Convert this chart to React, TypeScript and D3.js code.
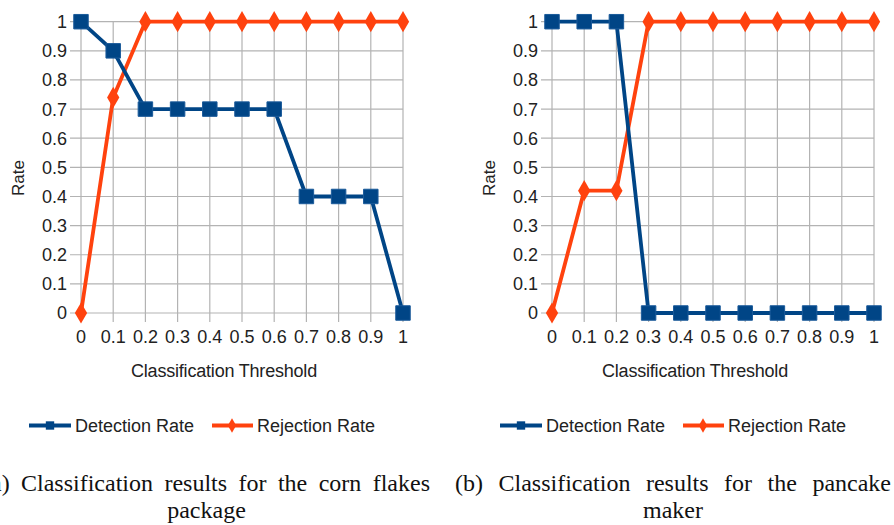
import React, { useLayoutEffect, useRef } from "react";
import * as d3 from "d3";

const thresholds = [0, 0.1, 0.2, 0.3, 0.4, 0.5, 0.6, 0.7, 0.8, 0.9, 1];
const thresholdLabels = ["0", "0.1", "0.2", "0.3", "0.4", "0.5", "0.6", "0.7", "0.8", "0.9", "1"];
const rateTicks = [0, 0.1, 0.2, 0.3, 0.4, 0.5, 0.6, 0.7, 0.8, 0.9, 1];
const rateTickLabels = ["0", "0.1", "0.2", "0.3", "0.4", "0.5", "0.6", "0.7", "0.8", "0.9", "1"];

const cornDetection = [1, 0.9, 0.7, 0.7, 0.7, 0.7, 0.7, 0.4, 0.4, 0.4, 0];
const cornRejection = [0, 0.74, 1, 1, 1, 1, 1, 1, 1, 1, 1];
const pancakeDetection = [1, 1, 1, 0, 0, 0, 0, 0, 0, 0, 0];
const pancakeRejection = [0, 0.42, 0.42, 1, 1, 1, 1, 1, 1, 1, 1];

const seriesNames = ["Detection Rate", "Rejection Rate"];
const captionA = ["(a) Classification results for the corn flakes", "package"];
const captionB = ["(b) Classification results for the pancake", "maker"];

const BLUE = "#004586";
const ORANGE = "#ff420e";
const GRID = "#b3b3b3";
const SANS = "'Liberation Sans', Arial, sans-serif";
const SERIF = "'Liberation Serif', 'Times New Roman', serif";

const square = d3.symbol().type(d3.symbolSquare).size(210);
const diamond = d3.symbol().type(d3.symbolDiamond).size(130);
const squareSmall = d3.symbol().type(d3.symbolSquare).size(70);
const diamondSmall = d3.symbol().type(d3.symbolDiamond).size(60);

function JustifiedLine({ text, left, right, y }: any) {
  const ref = useRef<SVGTextElement>(null);
  const words = text.split(" ");
  useLayoutEffect(() => {
    const el = ref.current;
    if (!el) return;
    const spans = Array.from(el.querySelectorAll("tspan")) as SVGTSpanElement[];
    const widths = spans.map((s) => s.getComputedTextLength());
    const total = widths.reduce((a, b) => a + b, 0);
    const gap = (right - left - total) / Math.max(1, spans.length - 1);
    let cx = left;
    spans.forEach((s, i) => {
      s.setAttribute("x", String(cx));
      cx += widths[i] + gap;
    });
  }, [text, left, right]);
  return (
    <text ref={ref} y={y} fontFamily={SERIF} fontSize={24} fill="#111">
      {words.map((w: string, i: number) => (
        <tspan key={i} x={left}>
          {w}
        </tspan>
      ))}
    </text>
  );
}

function Panel({ x0, detection, rejection, caption, capLeft, capRight }: any) {
  const x = d3.scaleLinear().domain([0, 1]).range([x0, x0 + 322]);
  const y = d3.scaleLinear().domain([0, 1]).range([313, 21.7]);
  const line = d3
    .line<number>()
    .x((_, i) => x(thresholds[i]))
    .y((d) => y(d));
  const legY = 425.5;
  const legX = x0 - 52;
  return (
    <g>
      {rateTicks.map((t, i) => (
        <line key={"h" + i} x1={x0 - 11} x2={x(1)} y1={y(t)} y2={y(t)} stroke={GRID} strokeWidth={1.2} />
      ))}
      {thresholds.map((t, i) => (
        <line key={"v" + i} x1={x(t)} x2={x(t)} y1={y(1)} y2={y(0) + 9} stroke={GRID} strokeWidth={1.2} />
      ))}
      {rateTicks.map((t, i) => (
        <text key={"yl" + i} x={x0 - 14} y={y(t)} dy="0.36em" textAnchor="end" fontFamily={SANS} fontSize={18} fill="#222">
          {rateTickLabels[i]}
        </text>
      ))}
      {thresholds.map((t, i) => (
        <text key={"xl" + i} x={x(t)} y={343} textAnchor="middle" fontFamily={SANS} fontSize={18} fill="#222">
          {thresholdLabels[i]}
        </text>
      ))}
      <text x={x0 - 63} y={178} transform={`rotate(-90 ${x0 - 63} 178)`} dy="0.36em" textAnchor="middle" fontFamily={SANS} fontSize={17} fill="#222">
        Rate
      </text>
      <text x={x0 + 143} y={377} textAnchor="middle" fontFamily={SANS} fontSize={18} fill="#222" letterSpacing={-0.2}>
        Classification Threshold
      </text>
      <path d={line(rejection) || ""} fill="none" stroke={ORANGE} strokeWidth={3.8} strokeLinejoin="round" />
      <path d={line(detection) || ""} fill="none" stroke={BLUE} strokeWidth={3.8} strokeLinejoin="round" />
      {rejection.map((v: number, i: number) => (
        <path key={"r" + i} d={diamond() || ""} transform={`translate(${x(thresholds[i])},${y(v)})`} fill={ORANGE} />
      ))}
      {detection.map((v: number, i: number) => (
        <path key={"d" + i} d={square() || ""} transform={`translate(${x(thresholds[i])},${y(v)})`} fill={BLUE} stroke="#1a5a9a" strokeWidth={1} />
      ))}
      {/* legend */}
      <line x1={legX} x2={legX + 42} y1={legY} y2={legY} stroke={BLUE} strokeWidth={3.8} />
      <path d={squareSmall() || ""} transform={`translate(${legX + 21},${legY})`} fill={BLUE} />
      <text x={legX + 46} y={legY} dy="0.36em" fontFamily={SANS} fontSize={18} fill="#222">
        {seriesNames[0]}
      </text>
      <line x1={legX + 183} x2={legX + 224} y1={legY} y2={legY} stroke={ORANGE} strokeWidth={3.8} />
      <path d={diamondSmall() || ""} transform={`translate(${legX + 203},${legY})`} fill={ORANGE} />
      <text x={legX + 228} y={legY} dy="0.36em" fontFamily={SANS} fontSize={18} fill="#222">
        {seriesNames[1]}
      </text>
      {/* caption */}
      <JustifiedLine text={caption[0]} left={capLeft} right={capRight} y={491} />
      <text x={(capLeft + capRight) / 2} y={518} textAnchor="middle" fontFamily={SERIF} fontSize={24} fill="#111">
        {caption[1]}
      </text>
    </g>
  );
}

export default function App() {
  return (
    <svg width={894} height={525} style={{ position: "absolute", left: 0, top: 0, background: "#fff" }}>
      <rect width={894} height={525} fill="#fff" />
      <Panel x0={81} detection={cornDetection} rejection={cornRejection} caption={captionA} capLeft={-17} capRight={430} />
      <Panel x0={552} detection={pancakeDetection} rejection={pancakeRejection} caption={captionB} capLeft={455} capRight={891} />
    </svg>
  );
}
